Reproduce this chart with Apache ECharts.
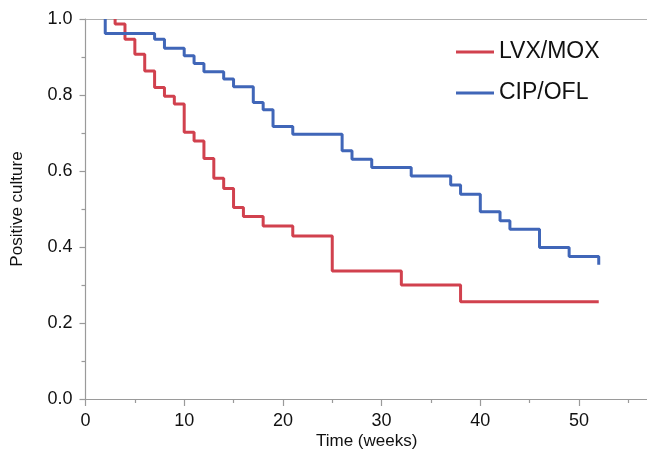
<!DOCTYPE html>
<html>
<head>
<meta charset="utf-8">
<script src="https://cdn.jsdelivr.net/npm/echarts@6/dist/echarts.min.js"></script>
<style>
  html, body { margin: 0; padding: 0; background: #ffffff; }
  #chart { width: 647px; height: 451px; }
</style>
</head>
<body>
<div id="chart"></div>
<script>
// Kaplan-Meier style step curves: time of each drop and the value after it
const lvxTimes = [3, 4, 5, 6, 7, 8, 9, 10, 11, 12, 13, 14, 15, 16, 18, 21, 25, 32, 38, 52];
const lvxValues = [0.987, 0.947, 0.907, 0.863, 0.820, 0.797, 0.776, 0.702, 0.679, 0.633,
                   0.581, 0.554, 0.504, 0.480, 0.455, 0.429, 0.337, 0.300, 0.256, 0.256];

const cipTimes = [2, 7, 8, 10, 11, 12, 14, 15, 17, 18, 19, 21, 26, 27, 29, 33, 37, 38, 40, 42, 43, 46, 49, 52];
const cipValues = [0.962, 0.947, 0.923, 0.903, 0.883, 0.861, 0.842, 0.822, 0.780, 0.761, 0.717, 0.697,
                   0.653, 0.631, 0.609, 0.587, 0.563, 0.539, 0.493, 0.469, 0.447, 0.399, 0.375, 0.353];

const seriesNames = ['LVX/MOX', 'CIP/OFL'];
const xTickValues = [0, 10, 20, 30, 40, 50];
const yTickValues = [0.0, 0.2, 0.4, 0.6, 0.8, 1.0];

const FONT = '"Liberation Sans", Arial, Helvetica, sans-serif';
const AXIS_GREY = '#9a9a9a';

// curve starts at 1.0 and steps down at each listed time
function stepData(times, values) {
  const pts = [[times[0], 1.0]];
  for (let i = 0; i < times.length; i++) pts.push([times[i], values[i]]);
  return pts;
}

const chart = echarts.init(document.getElementById('chart'), null, { renderer: 'canvas' });

chart.setOption({
  backgroundColor: '#ffffff',
  animation: false,
  // the axis runs on to 60, past the right edge of the canvas
  grid: { left: 85.5, width: 592.2, top: 19, bottom: 52, containLabel: false, outerBoundsMode: 'none' },
  legend: {
    orient: 'vertical',
    left: 451,
    top: 35,
    itemWidth: 38,
    itemHeight: 3,
    itemGap: 17,
    icon: 'rect',
    data: seriesNames,
    textStyle: { fontFamily: FONT, fontSize: 23, color: '#111', lineHeight: 24 }
  },
  xAxis: [{
    type: 'value',
    min: 0,
    max: 60,
    interval: 10,
    axisLine: { show: true, onZero: false, lineStyle: { color: AXIS_GREY, width: 1.2 } },
    axisTick: { show: true, length: 7, lineStyle: { color: AXIS_GREY, width: 1.2 } },
    minorTick: { show: true, splitNumber: 2, length: 4, lineStyle: { color: AXIS_GREY, width: 1.2 } },
    splitLine: { show: false },
    axisLabel: {
      margin: 13,
      fontFamily: FONT,
      fontSize: 18,
      color: '#111',
      formatter: v => (xTickValues.indexOf(v) >= 0 ? String(v) : '')
    }
  }, {
    // upper frame line
    type: 'value',
    position: 'top',
    min: 0,
    max: 60,
    axisLine: { show: true, onZero: false, lineStyle: { color: '#b0b0b0', width: 1.2 } },
    axisTick: { show: false },
    axisLabel: { show: false },
    splitLine: { show: false }
  }],
  yAxis: {
    type: 'value',
    min: 0,
    max: 1,
    interval: 0.2,
    name: 'Positive culture',
    nameLocation: 'middle',
    nameGap: 60,
    nameTextStyle: { fontFamily: FONT, fontSize: 17, color: '#111' },
    axisLine: { show: true, lineStyle: { color: AXIS_GREY, width: 1.2 } },
    axisTick: { show: true, length: 6, lineStyle: { color: AXIS_GREY, width: 1.2 } },
    minorTick: { show: true, splitNumber: 2, length: 4, lineStyle: { color: AXIS_GREY, width: 1.2 } },
    splitLine: { show: false },
    axisLabel: {
      margin: 13,
      fontFamily: FONT,
      fontSize: 18,
      color: '#111',
      formatter: v => {
        const hit = yTickValues.find(t => Math.abs(t - v) < 1e-9);
        return hit === undefined ? '' : hit.toFixed(1);
      }
    }
  },
  graphic: [{
    type: 'text',
    left: 367 - 51,
    top: 433,
    style: { text: 'Time (weeks)', font: '17px ' + FONT, fill: '#111' }
  }],
  series: [{
    name: seriesNames[0],
    type: 'line',
    step: 'end',
    showSymbol: false,
    symbol: 'none',
    color: '#d1414e',
    lineStyle: { width: 3, color: '#d1414e' },
    data: stepData(lvxTimes, lvxValues)
  }, {
    name: seriesNames[1],
    type: 'line',
    step: 'end',
    showSymbol: false,
    symbol: 'none',
    color: '#4066b8',
    lineStyle: { width: 3, color: '#4066b8' },
    data: stepData(cipTimes, cipValues)
  }]
});
</script>
</body>
</html>
